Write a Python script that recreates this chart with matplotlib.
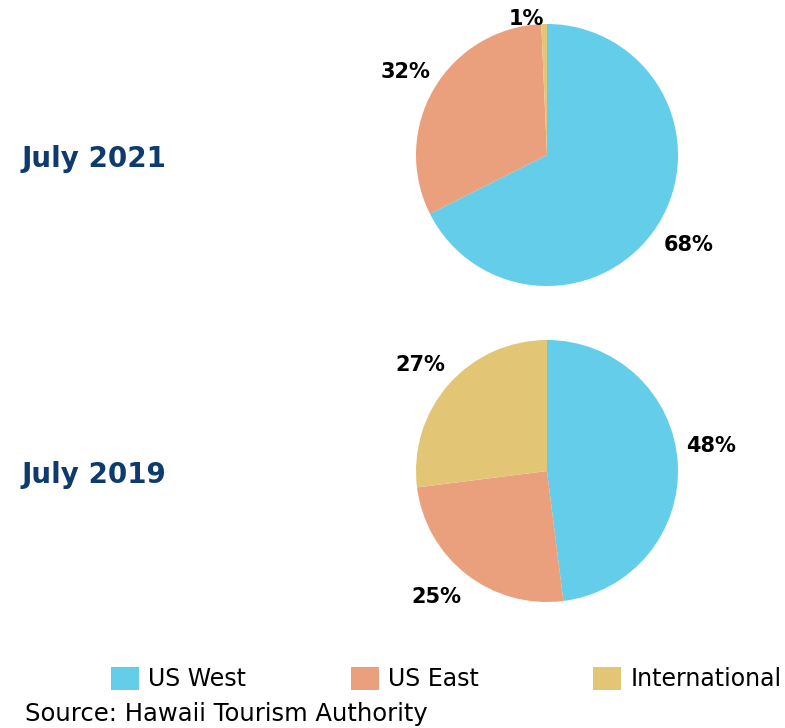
import numpy as np
import matplotlib
matplotlib.use("Agg")
import matplotlib.pyplot as plt
from matplotlib.patches import Patch

categories = ["US West", "US East", "International"]
colors = ["#63CDEA", "#EAA07D", "#E2C676"]

periods = ["July 2021", "July 2019"]
values_2021 = [67.6, 31.7, 0.7]
labels_2021 = ["68%", "32%", "1%"]
values_2019 = [48, 25, 27]
labels_2019 = ["48%", "25%", "27%"]
source = "Source: Hawaii Tourism Authority"

W, H = 785, 728
fig = plt.figure(figsize=(W / 100, H / 100), dpi=100)
plt.rcParams['font.family'] = ['DejaVu Sans']

title_color = "#0D3B6E"

def add_pie(cx_px, cy_px, r_px, vals, labs, dists, has, dangs):
    w = 2 * r_px / W
    h = 2 * r_px / H
    ax = fig.add_axes([cx_px / W - w / 2, 1 - cy_px / H - h / 2, w, h])
    wedges, _ = ax.pie(vals, colors=colors, startangle=90, counterclock=False,
                       radius=1, wedgeprops=dict(linewidth=0))
    for wdg, lab, d, ha, da in zip(wedges, labs, dists, has, dangs):
        ang = np.deg2rad((wdg.theta1 + wdg.theta2) / 2 + da)
        ax.text(d * np.cos(ang), d * np.sin(ang), lab, ha=ha, va="center",
                fontsize=15, fontweight="bold", color="black")
    ax.set_xlim(-1, 1)
    ax.set_ylim(-1, 1)
    ax.set_aspect("equal")
    ax.axis("off")
    return wedges

add_pie(547, 155, 131, values_2021, labels_2021, [1.28, 1.25, 1.04],
        ["center", "center", "right"], [-0.8, 0, 0])
add_pie(547, 471, 131, values_2019, labels_2019, [1.27, 1.28, 1.26],
        ["center", "center", "center"], [5.0, -3.6, 1.4])

fig.text(22 / W, 1 - 159 / H, periods[0], fontsize=20, fontweight="bold",
         color=title_color, ha="left", va="center")
fig.text(22 / W, 1 - 475 / H, periods[1], fontsize=20, fontweight="bold",
         color=title_color, ha="left", va="center")

legend_x = [111, 351, 593]
for c, l, lx in zip(colors, categories, legend_x):
    h = Patch(facecolor=c, edgecolor="none", label=l)
    leg = fig.legend(handles=[h], loc="center left", bbox_to_anchor=(lx / W, 1 - 679 / H),
                     frameon=False, fontsize=17, handlelength=1.18, handleheight=1.18,
                     handletextpad=0.4, borderpad=0, borderaxespad=0)

fig.text(25 / W, 1 - 714 / H, source, fontsize=17.5, ha="left", va="center", color="black")

fig.savefig("out.png", dpi=100)
